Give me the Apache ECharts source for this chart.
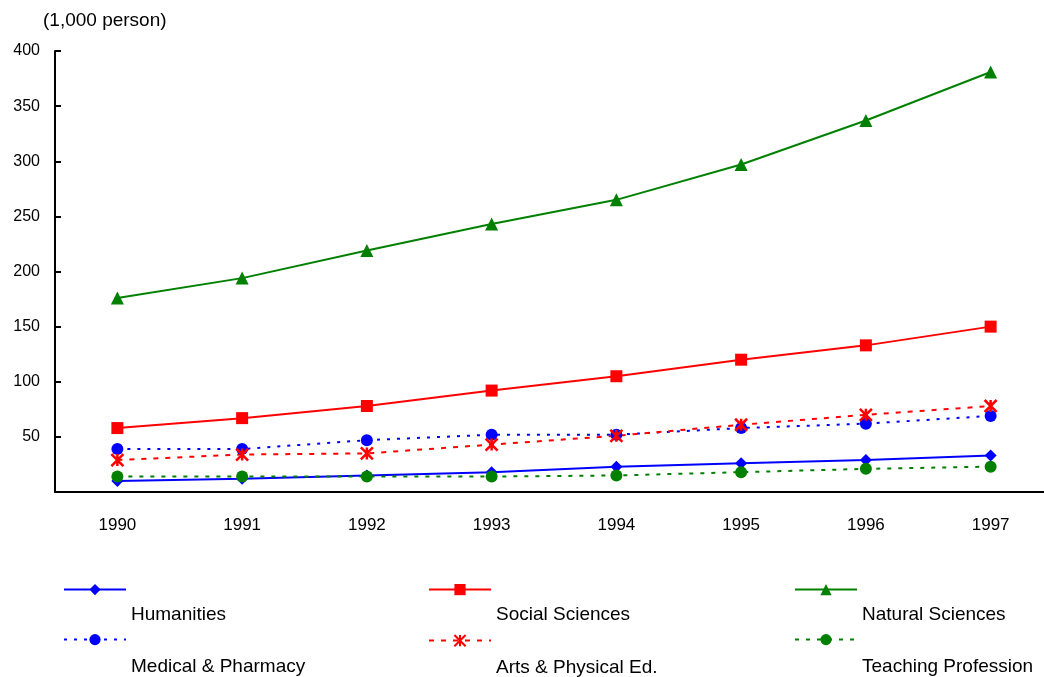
<!DOCTYPE html>
<html>
<head>
<meta charset="utf-8">
<script src="https://cdn.jsdelivr.net/npm/echarts@6/dist/echarts.min.js"></script>
<style>html,body{margin:0;padding:0;background:#fff;overflow:hidden}#c{width:1053px;height:677px}</style>
</head>
<body>
<div id="c"></div>
<script>
var years = ['1990','1991','1992','1993','1994','1995','1996','1997'];
var humanities = [10, 12, 15, 18, 23, 26, 29, 33];
var socialSciences = [58, 67, 78, 92, 105, 120, 133, 150];
var naturalSciences = [176, 194, 219, 243, 265, 297, 337, 381];
var medical = [39, 39, 47, 52, 52, 58, 62, 69];
var arts = [29, 34, 35, 43, 51, 61, 70, 78];
var teaching = [14, 14, 14, 14, 15, 18, 21, 23];

var FONT = 'Liberation Sans, Arial, sans-serif';
var starPath = 'path://M0,0L10,12M10,0L0,12M5,0L5,12';

var seriesDefs = [
  {name:'Humanities', data:humanities, color:'#0000FF', symbol:'diamond', size:12, type:'solid'},
  {name:'Social Sciences', data:socialSciences, color:'#FF0000', symbol:'rect', size:12, type:'solid'},
  {name:'Natural Sciences', data:naturalSciences, color:'#008000', symbol:'triangle', size:13, type:'solid'},
  {name:'Medical & Pharmacy', data:medical, color:'#0000FF', symbol:'circle', size:12, type:[3,7]},
  {name:'Arts & Physical Ed.', data:arts, color:'#FF0000', symbol:starPath, size:12, type:[5,7], star:true},
  {name:'Teaching Profession', data:teaching, color:'#008000', symbol:'circle', size:12, type:[4,7]}
];

var series = seriesDefs.map(function(d){
  return {
    name:d.name, type:'line', data:d.data, symbol:d.symbol, symbolSize:d.size,
    showAllSymbol:true, animation:false,
    lineStyle:{color:d.color, width:2, type:d.type},
    itemStyle: d.star ? {color:d.color, borderColor:d.color, borderWidth:2.5} : {color:d.color, borderWidth:0},
    emphasis:{disabled:true}
  };
});

var legendPos = [
  {x:63, y:584, p:50}, {x:428, y:584, p:50}, {x:794, y:584, p:50},
  {x:63, y:634, p:54}, {x:428, y:634, p:54}, {x:794, y:634, p:54}
];
var legends = seriesDefs.map(function(d,i){
  var p = legendPos[i];
  return {
    data:[d.name], left:p.x, top:p.y,
    itemWidth:62, itemHeight:14, itemGap:0, padding:0, selectedMode:false,
    formatter:function(n){return '{a|'+n+'}';},
    textStyle:{rich:{a:{fontFamily:FONT, fontSize:19, color:'#000', padding:[p.p,0,0,0]}}}
  };
});

var chart = echarts.init(document.getElementById('c'));
chart.setOption({
  animation:false,
  backgroundColor:'#fff',
  legend:legends,
  grid:{left:55, right:0, top:51, bottom:185},
  graphic:[{type:'text', left:43, top:11, style:{text:'(1,000 person)', font:'19px '+FONT, fill:'#000'}}],
  xAxis:{
    type:'category', data:years, boundaryGap:true,
    axisLine:{lineStyle:{color:'#000', width:2}},
    axisTick:{inside:true, length:8, lineStyle:{color:'#000', width:2}},
    axisLabel:{color:'#000', fontFamily:FONT, fontSize:17, margin:25}
  },
  yAxis:{
    type:'value', min:0, max:400, interval:50,
    axisLine:{show:true, lineStyle:{color:'#000', width:2}},
    axisTick:{show:true, inside:true, length:6, lineStyle:{color:'#000', width:2}},
    axisLabel:{color:'#000', fontFamily:FONT, fontSize:16, margin:15, showMinLabel:false},
    splitLine:{show:false}
  },
  series:series
});
</script>
</body>
</html>
